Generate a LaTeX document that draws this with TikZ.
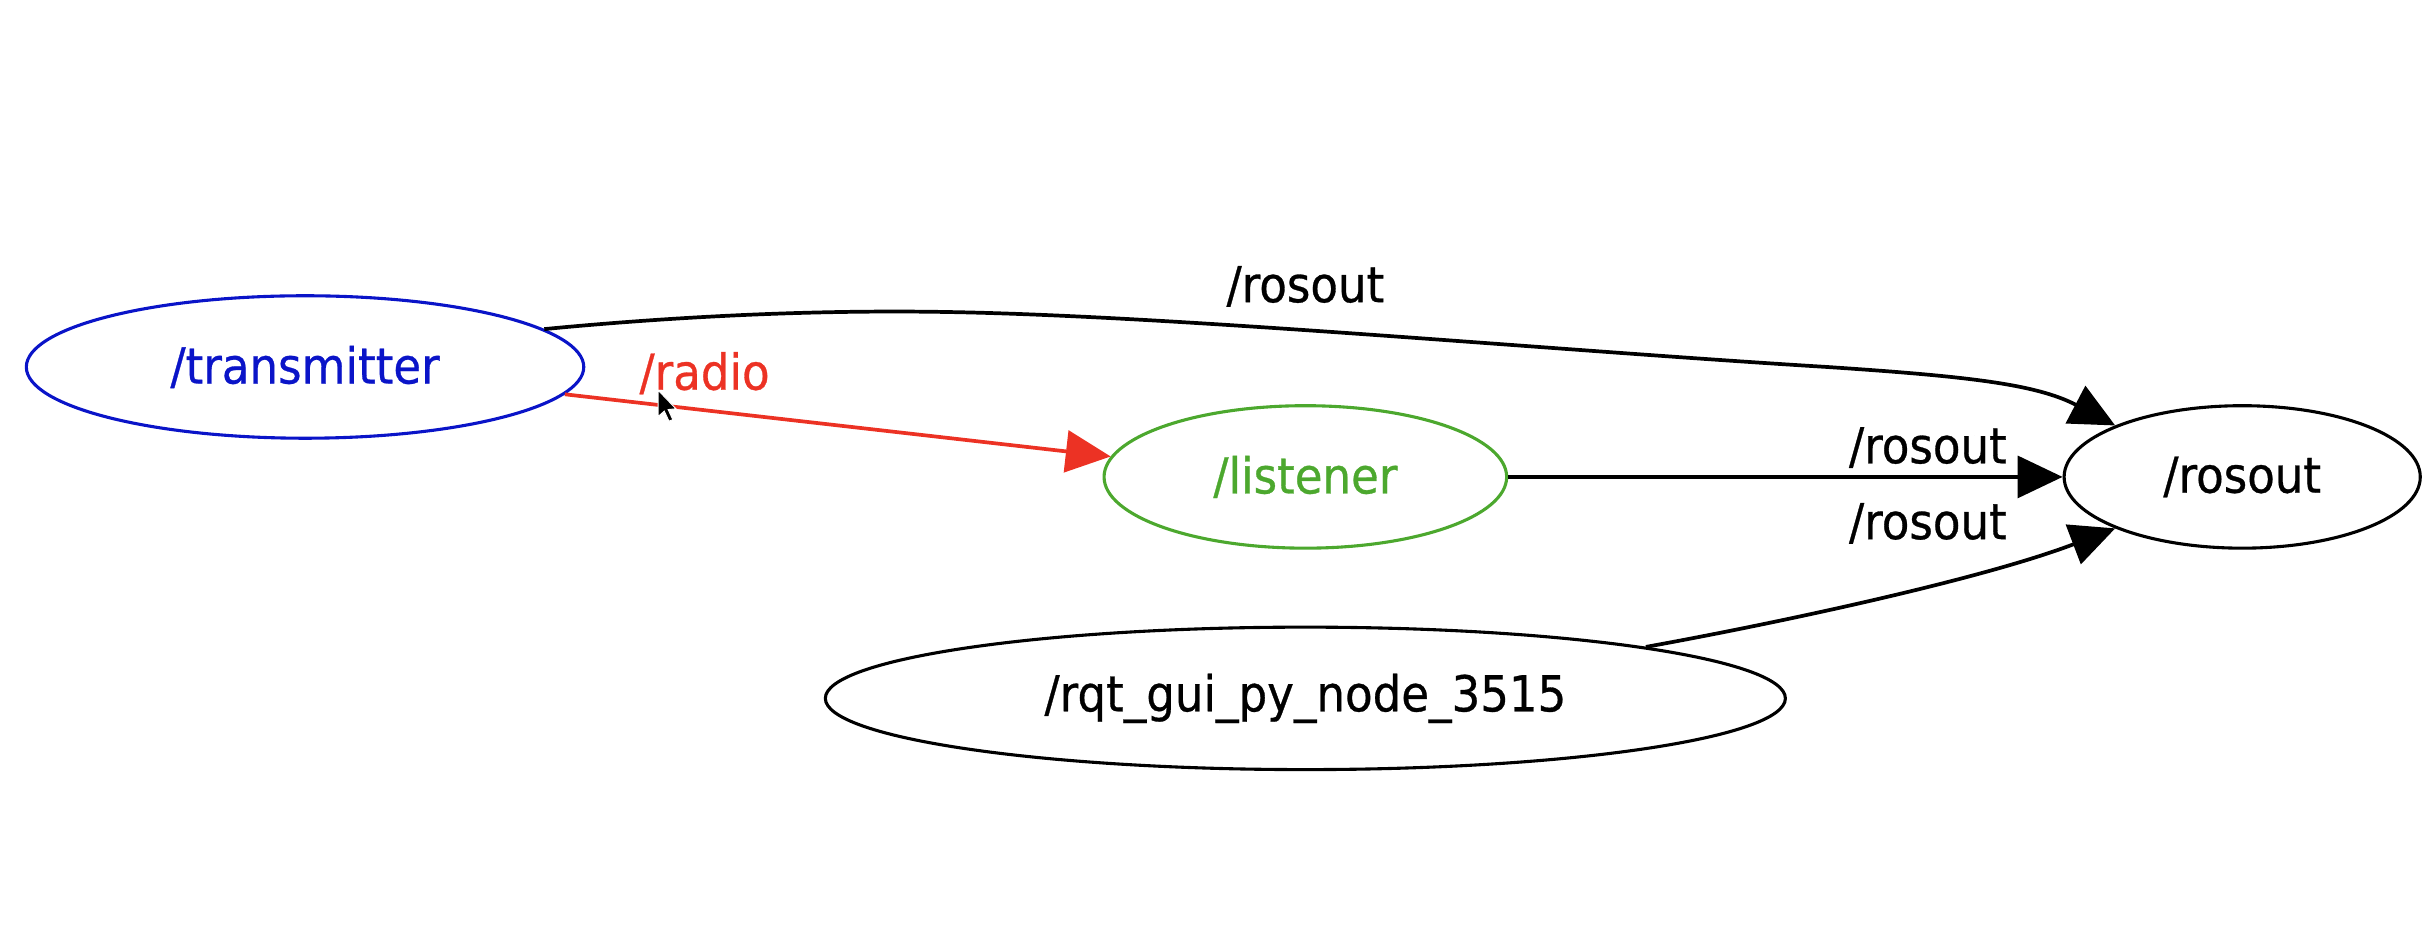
\documentclass[tikz,border=0pt]{standalone}
\usepackage{fontspec}
\setmainfont{DejaVu Sans}[FakeStretch=0.91,FakeBold=0.6]
\usetikzlibrary{arrows.meta,shapes.geometric}
\definecolor{tblue}{RGB}{10,20,200}
\definecolor{lgreen}{RGB}{76,168,46}
\definecolor{rred}{RGB}{236,50,36}
\begin{document}
\begin{tikzpicture}[x=1pt,y=-1pt,
  gnode/.style={ellipse,draw,line width=2pt,inner sep=0pt,minimum height=92pt,
    font=\fontsize{32}{38}\selectfont},
  edge/.style={line width=2.4pt,-{Triangle[length=29pt,width=27pt]}},
  elabel/.style={font=\fontsize{32}{38}\selectfont,inner sep=0pt}]
\useasboundingbox (0,0) rectangle (1568,599.3);
\node[gnode,draw=tblue,text=tblue,minimum width=360pt] (tr) at (197,237) {/transmitter};
\node[gnode,draw=lgreen,text=lgreen,minimum width=260pt] (li) at (843,308) {/listener};
\node[gnode,minimum width=230pt] (ro) at (1448,308) {/rosout};
\node[gnode,minimum width=620pt] (rq) at (843,451) {/rqt\_gui\_py\_node\_3515};
% edges
\draw[edge] (tr.9) .. controls (440,204) and (530,200) .. (612,201.5)
  .. controls (760,204) and (1000,226) .. (1180,237)
  .. controls (1270,243) and (1315,248) .. (ro.north west);
\draw[edge,draw=rred,{-{Triangle[length=29pt,width=27pt,fill=rred]}}] (tr.-6) -- (li.174);
\draw[edge] (li.east) -- (ro.west);
\draw[edge] (rq.north east) .. controls (1150,402) and (1280,374) .. (ro.south west);
% labels
\node[elabel] (l1) at (843,185) {/rosout};
\node[elabel,text=rred] (l2) at (455,241) {/radio};
\node[elabel] (l3) at (1245,289) {/rosout};
\node[elabel] (l4) at (1245,338) {/rosout};
% mouse cursor
\draw[fill=black,draw=white,line width=0.6pt] (425,252) -- (425,269) -- (429,265.5) -- (432,272) -- (434.5,271) -- (431.5,264.5) -- (436.5,264) -- cycle;
\end{tikzpicture}
\end{document}
